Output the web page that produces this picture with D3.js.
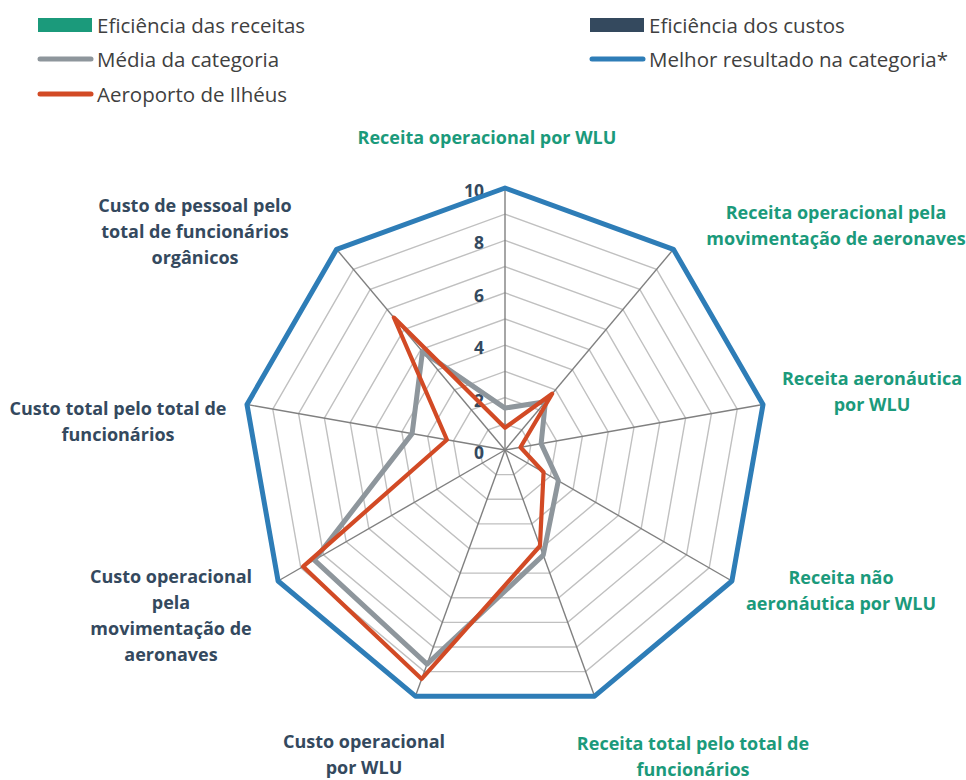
<!DOCTYPE html>
<html>
<head>
<meta charset="utf-8">
<script src="https://cdn.jsdelivr.net/npm/d3@7/dist/d3.min.js"></script>
<style>
  html, body { margin: 0; padding: 0; background: #fff; }
  svg { display: block; font-family: "Open Sans", Lato, sans-serif; }
</style>
</head>
<body>
<svg id="chart" width="966" height="780"></svg>
<script>
// ---- data ----
const categories = [
  "Receita operacional por WLU",
  "Receita operacional pela movimentação de aeronaves",
  "Receita aeronáutica por WLU",
  "Receita não aeronáutica por WLU",
  "Receita total pelo total de funcionários",
  "Custo operacional por WLU",
  "Custo operacional pela movimentação de aeronaves",
  "Custo total pelo total de funcionários",
  "Custo de pessoal pelo total de funcionários orgânicos"
];
const categoryGroup = ["receita","receita","receita","receita","receita","custo","custo","custo","custo"];
const mediaCategoria = [1.6, 2.4, 1.4, 2.35, 4.27, 8.7, 8.4, 3.6, 4.9];
const aeroportoIlheus = [0.85, 2.8, 0.6, 1.7, 3.9, 9.3, 8.9, 2.25, 6.6];
const melhorResultado = [10, 10, 10, 10, 10, 10, 10, 10, 10];
const tickValues = [0, 2, 4, 6, 8, 10];
const gridValues = [1, 2, 3, 4, 5, 6, 7, 8, 9, 10];

const legendItems = [
  { label: "Eficiência das receitas", type: "rect", key: "receita" },
  { label: "Eficiência dos custos", type: "rect", key: "custo" },
  { label: "Média da categoria", type: "line", key: "media" },
  { label: "Melhor resultado na categoria*", type: "line", key: "melhor" },
  { label: "Aeroporto de Ilhéus", type: "line", key: "ilheus" }
];

// ---- styles / layout ----
const colors = {
  receita: "#1b9a7b",
  custo: "#34495e",
  media: "#8e969c",
  melhor: "#2e7db7",
  ilheus: "#d24a25",
  ring: "#c0c0c0",
  spoke: "#808080",
  legendText: "#404040"
};

// wrapped label lines and their block centers (relative to chart center)
const labelLayout = [
  { lines: ["Receita operacional por WLU"], dx: -18, dy: -313 },
  { lines: ["Receita operacional pela", "movimentação de aeronaves"], dx: 331, dy: -225 },
  { lines: ["Receita aeronáutica", "por WLU"], dx: 367, dy: -59 },
  { lines: ["Receita não", "aeronáutica por WLU"], dx: 336, dy: 140 },
  { lines: ["Receita total pelo total de", "funcionários"], dx: 188, dy: 306 },
  { lines: ["Custo operacional", "por WLU"], dx: -141, dy: 304 },
  { lines: ["Custo operacional", "pela", "movimentação de", "aeronaves"], dx: -334, dy: 165 },
  { lines: ["Custo total pelo total de", "funcionários"], dx: -387, dy: -29 },
  { lines: ["Custo de pessoal pelo", "total de funcionários", "orgânicos"], dx: -310, dy: -219 }
];

const cx = 505, cy = 450, R = 262;
const svg = d3.select("#chart");

const r = d3.scaleLinear().domain([0, 10]).range([0, R]);
const angle = d3.scaleLinear().domain([0, categories.length]).range([0, 2 * Math.PI]);

const g = svg.append("g").attr("transform", `translate(${cx},${cy})`);

const radial = d3.lineRadial()
  .angle((d, i) => angle(i))
  .radius(d => r(d))
  .curve(d3.curveLinearClosed);

// grid rings
g.append("g").selectAll("path")
  .data(gridValues)
  .join("path")
  .attr("d", v => radial(categories.map(() => v)))
  .attr("fill", "none")
  .attr("stroke", colors.ring)
  .attr("stroke-width", 1.4);

// spokes
g.append("g").selectAll("line")
  .data(categories)
  .join("line")
  .attr("x1", 0).attr("y1", 0)
  .attr("x2", (d, i) => r(10) * Math.sin(angle(i)))
  .attr("y2", (d, i) => -r(10) * Math.cos(angle(i)))
  .attr("stroke", colors.spoke)
  .attr("stroke-width", 1.4);

// tick labels
g.append("g").selectAll("text")
  .data(tickValues)
  .join("text")
  .attr("x", -21)
  .attr("y", v => -r(v) + 2)
  .attr("text-anchor", "end")
  .attr("dominant-baseline", "central")
  .attr("font-size", 17.5)
  .attr("font-weight", 700)
  .attr("fill", colors.custo)
  .text(v => v);

// series
const series = [
  { key: "media", values: mediaCategoria, width: 5 },
  { key: "ilheus", values: aeroportoIlheus, width: 4.2 },
  { key: "melhor", values: melhorResultado, width: 5 }
];
g.append("g").selectAll("path")
  .data(series)
  .join("path")
  .attr("d", s => radial(s.values))
  .attr("fill", "none")
  .attr("stroke", s => colors[s.key])
  .attr("stroke-width", s => s.width)
  .attr("stroke-linejoin", "round");

// category labels
const lh = 26;
const lab = g.append("g").selectAll("text")
  .data(categories)
  .join("text")
  .attr("text-anchor", "middle")
  .attr("font-size", 18)
  .attr("font-weight", 700)
  .attr("fill", (d, i) => colors[categoryGroup[i]]);
lab.each(function (d, i) {
  const L = labelLayout[i];
  const n = L.lines.length;
  d3.select(this).selectAll("tspan")
    .data(L.lines)
    .join("tspan")
    .attr("x", L.dx)
    .attr("y", (t, j) => L.dy + (j - (n - 1) / 2) * lh)
    .attr("dominant-baseline", "central")
    .text(t => t);
});

// legend
const legendPos = [
  { x: 38, y: 25 }, { x: 590, y: 25 },
  { x: 38, y: 59 }, { x: 590, y: 59 },
  { x: 38, y: 94 }
];
const leg = svg.append("g").selectAll("g")
  .data(legendItems)
  .join("g")
  .attr("transform", (d, i) => `translate(${legendPos[i].x},${legendPos[i].y})`);
leg.filter(d => d.type === "rect").append("rect")
  .attr("x", 0).attr("y", -7).attr("width", 54).attr("height", 14)
  .attr("fill", d => colors[d.key]);
leg.filter(d => d.type === "line").append("line")
  .attr("x1", 2).attr("x2", 53).attr("y1", 0).attr("y2", 0)
  .attr("stroke", d => colors[d.key])
  .attr("stroke-width", 5)
  .attr("stroke-linecap", "round");
leg.append("text")
  .attr("x", 59).attr("y", 0)
  .attr("dominant-baseline", "central")
  .attr("font-size", 20.5)
  .attr("fill", colors.legendText)
  .text(d => d.label);
</script>
</body>
</html>
